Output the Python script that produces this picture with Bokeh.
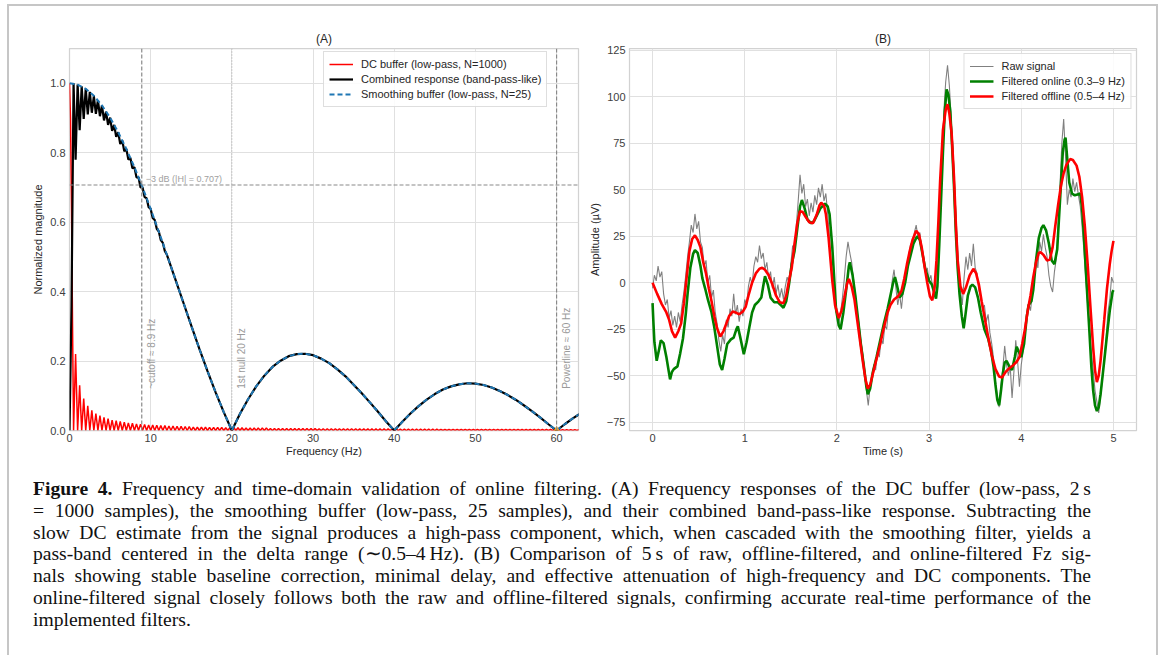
import numpy as np
from bokeh.plotting import figure
from bokeh.models import (Span, Label, Legend, LegendItem, FixedTicker, Div, Range1d)
from bokeh.layouts import row, column
from bokeh.embed import file_html
from bokeh.resources import INLINE

# ---------------- data : panel A (frequency responses) ----------------
freq_ticks = [0, 10, 20, 30, 40, 50, 60]
mag_ticks = [0.0, 0.2, 0.4, 0.6, 0.8, 1.0]

# smoothing buffer (N=25), read at 1 Hz steps from 0 to 63 Hz
smooth_step_hz = 1.0
smooth_mag = [1.000, 0.996, 0.984, 0.964, 0.936, 0.901, 0.859, 0.811, 0.758, 0.700,
              0.638, 0.573, 0.506, 0.438, 0.370, 0.302, 0.235, 0.171, 0.110, 0.053,
              0.000, 0.048, 0.090, 0.127, 0.158, 0.183, 0.201, 0.214, 0.220, 0.221,
              0.217, 0.207, 0.194, 0.176, 0.156, 0.132, 0.107, 0.081, 0.054, 0.026,
              0.000, 0.025, 0.049, 0.070, 0.089, 0.105, 0.118, 0.127, 0.133, 0.136,
              0.135, 0.131, 0.124, 0.114, 0.102, 0.088, 0.072, 0.055, 0.037, 0.018,
              0.000, 0.018, 0.035, 0.050]

# combined response, low-frequency part read at 0.25 Hz steps (0..12 Hz);
# above 12 Hz it lies on the smoothing curve
combined_step_hz = 0.25
combined_lf = [0.0, 0.36, 1.0, 0.78, 0.996, 0.865, 0.991, 0.897, 0.984, 0.910,
               0.975, 0.915, 0.963, 0.912, 0.951, 0.905, 0.936, 0.893, 0.918, 0.880,
               0.901, 0.863, 0.880, 0.846, 0.859, 0.825, 0.835, 0.804, 0.811, 0.780,
               0.785, 0.755, 0.758, 0.729, 0.729, 0.700, 0.700, 0.672, 0.669, 0.643,
               0.638, 0.612, 0.606, 0.581, 0.573, 0.548, 0.540, 0.516, 0.506]

# DC buffer (N=1000): main lobe at 0.125 Hz steps, then side-lobe peaks (nulls every 0.5 Hz)
dc_main_step_hz = 0.125
dc_main = [1.0, 0.90, 0.64, 0.30, 0.0]
dc_lobe_hz = 0.5
dc_peaks = [0.220, 0.130, 0.092, 0.071, 0.058, 0.049, 0.043, 0.038, 0.034, 0.030,
            0.028, 0.026, 0.024, 0.022, 0.021, 0.019, 0.018, 0.017, 0.016, 0.016,
            0.015, 0.014, 0.014, 0.013, 0.013, 0.012, 0.012, 0.011, 0.011, 0.010,
            0.010, 0.010, 0.010, 0.009, 0.009, 0.009, 0.009, 0.008, 0.008, 0.008,
            0.008, 0.008, 0.007, 0.007, 0.007, 0.007, 0.007, 0.007, 0.006, 0.006,
            0.006, 0.006, 0.006, 0.006, 0.006, 0.006, 0.006, 0.006, 0.006, 0.006,
            0.005, 0.005, 0.005, 0.005, 0.005, 0.005, 0.005, 0.005, 0.005, 0.005,
            0.0045, 0.0045, 0.0045, 0.0045, 0.0045, 0.0045, 0.0045, 0.0045, 0.0045, 0.0045,
            0.004, 0.004, 0.004, 0.004, 0.004, 0.004, 0.004, 0.004, 0.004, 0.004,
            0.0035, 0.0035, 0.0035, 0.0035, 0.0035, 0.0035, 0.0035, 0.0035, 0.0035, 0.0035,
            0.0032, 0.0032, 0.0032, 0.0032, 0.0032, 0.0032, 0.0032, 0.0032, 0.0032, 0.0032,
            0.003, 0.003, 0.003, 0.003, 0.003, 0.003, 0.003, 0.003, 0.003, 0.003,
            0.0027, 0.0027, 0.0027, 0.0027, 0.0027]

cutoff_hz = 8.9
null_hz = 20
powerline_hz = 60
minus3db = 0.707

# ---------------- data : panel B (time domain) ----------------
time_ticks = [0, 1, 2, 3, 4, 5]
amp_ticks = [-75, -50, -25, 0, 25, 50, 75, 100, 125]

raw_dt = 0.02
raw_uv = [-3, 4, 1, 9, 3, 6, -6, -12, -9, -19,
          -15, -23, -18, -24, -16, -21, -12, -5, 4, 14,
          22, 31, 27, 37, 29, 33, 22, 19, 9, 12,
          0, 4, -8, -4, -16, -22, -31, -37, -28, -33,
          -20, -24, -14, -18, -6, -17, -12, -21, -14, -18,
          -9, -12, -2, 3, -1, 9, 14, 11, 20, 13,
          16, 7, 11, 2, 6, -3, 3, -6, -1, -8,
          -3, -9, -2, 3, 0, 10, 20, 17, 31, 44,
          58, 48, 53, 41, 45, 36, 43, 38, 47, 42,
          51, 46, 53, 44, 48, 37, 24, 9, -4, -12,
          -18, -22, -16, -8, 2, 14, 22, 16, 11, 2,
          -6, -16, -22, -31, -38, -47, -58, -66, -56, -51,
          -44, -47, -37, -40, -30, -33, -23, -25, -14, -10,
          1, 7, -3, -12, -6, -14, -4, 3, 9, 15,
          21, 18, 27, 31, 24, 27, 17, 14, 5, 8,
          1, 4, -3, -6, 8, 24, 47, 68, 92, 108,
          117, 106, 88, 71, 48, 28, 9, -4, -12, 3,
          14, 7, 16, 9, 21, 8, 5, -4, -8, -14,
          -12, -21, -17, -27, -33, -41, -53, -61, -67, -55,
          -46, -34, -44, -50, -45, -62, -48, -31, -42, -56,
          -44, -37, -28, -19, -11, -15, -6, 2, 14, 8,
          22, 17, 26, 19, 14, 4, -2, -5, 6, 13,
          29, 52, 75, 88, 68, 42, 50, 46, 56, 49,
          54, 47, 41, 30, 17, 2, -12, -24, -38, -47,
          -58, -64, -70, -61, -52, -41, -30, -16, -9, 3,
          0]

online_t = [0.00, 0.01, 0.02, 0.045, 0.07, 0.09, 0.12, 0.15, 0.19, 0.21,
            0.23, 0.27, 0.30, 0.33, 0.36, 0.38, 0.41, 0.44, 0.46, 0.49,
            0.52, 0.54, 0.57, 0.60, 0.64, 0.67, 0.70, 0.73, 0.755, 0.78,
            0.81, 0.85, 0.88, 0.91, 0.925, 0.95, 0.99, 1.02, 1.05, 1.08,
            1.11, 1.15, 1.18, 1.20, 1.22, 1.25, 1.28, 1.32, 1.36, 1.40,
            1.42, 1.45, 1.48, 1.51, 1.54, 1.57, 1.60, 1.62, 1.65, 1.68,
            1.72, 1.75, 1.78, 1.82, 1.87, 1.90, 1.92, 1.95, 1.99, 2.02,
            2.04, 2.07, 2.10, 2.13, 2.14, 2.17, 2.20, 2.23, 2.26, 2.29,
            2.32, 2.335, 2.36, 2.39, 2.43, 2.47, 2.51, 2.55, 2.58, 2.61,
            2.63, 2.65, 2.68, 2.71, 2.74, 2.77, 2.80, 2.83, 2.87, 2.90,
            2.93, 2.96, 3.00, 3.03, 3.06, 3.075, 3.09, 3.11, 3.13, 3.15,
            3.17, 3.19, 3.21, 3.23, 3.25, 3.27, 3.29, 3.31, 3.33, 3.355,
            3.375, 3.39, 3.42, 3.45, 3.47, 3.50, 3.53, 3.56, 3.60, 3.64,
            3.67, 3.70, 3.72, 3.74, 3.76, 3.78, 3.80, 3.82, 3.84, 3.87,
            3.90, 3.93, 3.95, 3.98, 4.00, 4.03, 4.06, 4.08, 4.11, 4.13,
            4.16, 4.19, 4.22, 4.24, 4.27, 4.30, 4.33, 4.36, 4.39, 4.42,
            4.45, 4.47, 4.48, 4.50, 4.52, 4.55, 4.58, 4.61, 4.64, 4.66,
            4.68, 4.70, 4.72, 4.74, 4.76, 4.78, 4.80, 4.82, 4.84, 4.86,
            4.88, 4.90, 4.93, 4.96, 4.99, 5.00]
online_uv = [-11, -22, -32, -42, -36, -31, -32.5, -40, -52, -48,
             -46.5, -45, -38, -30, -17, -6, 8, 15.5, 17.5, 16,
             9, 2.5, -3, -9, -16, -24, -34, -44, -47, -41,
             -33, -30.5, -29.5, -25, -23.5, -29, -38.5, -32, -24, -16,
             -12, -10, -8, -2, 3.5, -1, -8, -10.5, -10.5, -12.5,
             -13.5, -10, -1, 10, 17, 29, 41, 44.5, 40, 34,
             32, 33, 36, 40, 42.5, 41, 37, 19, -14, -23,
             -25, -16, -4, 9, 11, 4, -7, -20, -33, -44,
             -56, -60, -57, -48, -40, -31, -22, -14, -7, 0,
             3, -1, -8, -6, 0, 9, 15, 21, 25, 23,
             15, 7, 1, -1, -6, -8.5, -2, 20, 45, 70,
             92, 104, 101, 92, 73, 52, 27, 8, -6, -18,
             -24.5, -19, -7, -2, -1, -2.5, -8, -16, -25, -30,
             -36, -45.5, -55, -63, -66, -58, -49, -43, -42, -45,
             -47, -40, -34.5, -38, -40, -33, -18, -12, -10, -4,
             12, 24, 29.5, 31, 28, 21, 12, 10, 18, 44,
             70, 77, 78, 66, 54, 48, 47, 47.5, 48, 40,
             25, 7, -10, -27, -45, -58, -66, -69, -67, -60,
             -51, -42, -28, -15, -5, -4]

offline_t = [0.00, 0.05, 0.10, 0.15, 0.18, 0.21, 0.245, 0.28, 0.31, 0.34,
             0.37, 0.40, 0.43, 0.46, 0.49, 0.52, 0.55, 0.58, 0.61, 0.64,
             0.67, 0.70, 0.735, 0.77, 0.80, 0.83, 0.87, 0.90, 0.94, 0.98,
             1.01, 1.04, 1.08, 1.12, 1.16, 1.19, 1.22, 1.26, 1.30, 1.34,
             1.38, 1.42, 1.45, 1.48, 1.51, 1.54, 1.57, 1.60, 1.63, 1.66,
             1.70, 1.74, 1.78, 1.81, 1.83, 1.86, 1.88, 1.91, 1.95, 1.98,
             2.02, 2.05, 2.08, 2.11, 2.13, 2.16, 2.19, 2.22, 2.25, 2.28,
             2.31, 2.335, 2.36, 2.39, 2.43, 2.47, 2.51, 2.55, 2.58, 2.62,
             2.66, 2.70, 2.73, 2.76, 2.79, 2.82, 2.86, 2.89, 2.92, 2.95,
             2.98, 3.01, 3.035, 3.06, 3.08, 3.10, 3.12, 3.15, 3.18, 3.20,
             3.22, 3.245, 3.27, 3.29, 3.31, 3.34, 3.37, 3.40, 3.44, 3.48,
             3.51, 3.54, 3.57, 3.60, 3.64, 3.68, 3.72, 3.76, 3.79, 3.83,
             3.87, 3.91, 3.95, 3.98, 4.01, 4.04, 4.07, 4.10, 4.13, 4.16,
             4.19, 4.21, 4.24, 4.28, 4.31, 4.34, 4.37, 4.40, 4.43, 4.46,
             4.49, 4.53, 4.56, 4.60, 4.63, 4.66, 4.69, 4.72, 4.75, 4.78,
             4.80, 4.82, 4.84, 4.86, 4.88, 4.90, 4.93, 4.96, 4.98, 5.00]
offline_uv = [0, -6, -11.5, -16, -20, -26, -29.5, -26, -22, -11,
              3, 17, 23.5, 25.5, 23, 19, 11, 5, -3, -10,
              -18, -24.5, -29, -26, -22, -18, -15.5, -16, -17, -15.5,
              -13, -7, 0, 5, 7.5, 8, 7, 4, -1, -7,
              -10.5, -11, -7, 1, 8, 21, 32, 38.5, 38, 35.5,
              32.5, 32, 36.5, 41.5, 43, 41.5, 37, 24, 1, -12,
              -19, -15, -8, -0.5, 2, -2, -9, -20, -31, -42,
              -52, -57, -55, -49, -41, -33, -24, -16, -12, -9,
              -7.5, -4.5, 2, 10, 17, 23, 28, 26, 19, 9,
              0, -7.5, -9.5, -2, 12, 32, 55, 82, 93, 96,
              91, 80, 57, 32, 12, -2, -6, -2.5, 4, 7.5,
              5, -1, -10, -18, -29, -39, -46.5, -50.5, -51, -48,
              -46, -44.5, -42.5, -40, -33, -25, -15, -7, 3, 11,
              16, 16.5, 15, 12, 12.5, 19, 31, 42, 52, 59,
              63.5, 66.5, 66, 63, 57, 46, 30, 10, -13, -35,
              -47, -53.5, -50, -42, -31, -20, -3, 10, 17, 22.5]

# ---------------- derived arrays ----------------
smooth_hz = np.arange(len(smooth_mag)) * smooth_step_hz
lf_hz = np.arange(len(combined_lf)) * combined_step_hz
keep = smooth_hz > lf_hz[-1]
combined_hz = np.concatenate([lf_hz, smooth_hz[keep]])
combined_mag = np.concatenate([combined_lf, np.array(smooth_mag)[keep]])

dc_hz = list(np.arange(len(dc_main)) * dc_main_step_hz)
dc_mag = list(dc_main)
for k, pk in enumerate(dc_peaks):
    dc_hz += [dc_lobe_hz * (k + 1) + dc_lobe_hz / 2, dc_lobe_hz * (k + 2)]
    dc_mag += [pk, 0.0]

raw_t = np.arange(len(raw_uv)) * raw_dt

# ---------------- styling helpers ----------------
FONT = "Liberation Sans"


def style(p):
    p.outline_line_color = "#d2d2d2"
    p.outline_line_width = 1.25
    p.background_fill_color = "white"
    p.border_fill_color = "white"
    for ax in (p.xaxis[0], p.yaxis[0]):
        ax.axis_line_color = None
        ax.major_tick_line_color = None
        ax.minor_tick_line_color = None
        ax.major_tick_out = 0
        ax.major_tick_in = 0
        ax.minor_tick_out = 0
        ax.minor_tick_in = 0
        ax.major_label_text_font = FONT
        ax.major_label_text_font_size = "11px"
        ax.major_label_text_color = "#404040"
        ax.axis_label_text_font = FONT
        ax.axis_label_text_font_size = "11px"
        ax.axis_label_text_font_style = "normal"
        ax.axis_label_text_color = "#262626"
    p.xaxis.major_label_standoff = 3
    p.xaxis.axis_label_standoff = 0
    p.yaxis.major_label_standoff = 4
    p.yaxis.axis_label_standoff = 3
    p.grid.grid_line_color = "#e0e0e0"
    p.grid.grid_line_width = 1
    p.title.align = "center"
    p.title.text_font = FONT
    p.title.text_font_size = "12px"
    p.title.text_font_style = "normal"
    p.title.text_color = "#262626"
    p.title.standoff = 6


def legend(items, loc):
    lg = Legend(items=items, location=loc)
    lg.border_line_color = "#bdbdbd"
    lg.border_line_width = 1
    lg.background_fill_alpha = 0.85
    lg.label_text_font = FONT
    lg.label_text_font_size = "11px"
    lg.label_text_color = "#262626"
    lg.glyph_width = 24
    lg.glyph_height = 14
    lg.label_height = 14
    lg.spacing = 1
    lg.padding = 5
    lg.label_standoff = 8
    lg.margin = 5
    return lg


# ---------------- panel A ----------------
pA = figure(width=576, height=454, title="(A)", output_backend="svg", toolbar_location=None,
            x_range=Range1d(0, 62.7), y_range=Range1d(0, 1.1),
            min_border_left=60, min_border_right=7, min_border_top=42, min_border_bottom=30,
            x_axis_label="Frequency (Hz)", y_axis_label="Normalized magnitude")
style(pA)
pA.xaxis.ticker = FixedTicker(ticks=freq_ticks)
pA.yaxis.ticker = FixedTicker(ticks=mag_ticks)
pA.yaxis.major_label_overrides = {v: f"{v:.1f}" for v in mag_ticks}

for loc, dim, dash, wid, col in [(cutoff_hz, "height", "4 2", 1.2, "#8a8a8a"),
                                 (null_hz, "height", "1 2", 0.9, "#a0a0a0"),
                                 (powerline_hz, "height", "4 2", 1.2, "#8a8a8a"),
                                 (minus3db, "width", "4 2", 1.2, "#8a8a8a")]:
    pA.add_layout(Span(location=loc, dimension=dim, line_dash=dash, line_width=wid, line_color=col))

rA1 = pA.line(dc_hz, dc_mag, line_color="#ff0000", line_width=1.5)
rA2 = pA.line(combined_hz, combined_mag, line_color="black", line_width=2.2)
rA3 = pA.line(smooth_hz, smooth_mag, line_color="#1f77b4", line_width=2, line_dash="5 3")
pA.scatter([powerline_hz], [0.0], marker="triangle", size=7, color="#f5a623")

pA.add_layout(Label(x=cutoff_hz + 0.5, y=minus3db + 0.004, text="\u22123 dB (|H| = 0.707)",
                    text_font=FONT, text_font_size="9px", text_color="#a0a0a0",
                    text_baseline="bottom", text_align="left"))
for fx, txt in [(cutoff_hz, "~cutoff \u2248 8.9 Hz"), (null_hz, "1st null 20 Hz"),
                (powerline_hz, "Powerline \u2248 60 Hz")]:
    pA.add_layout(Label(x=fx + 1.2, y=0.12, text=txt, angle=np.pi / 2, text_font=FONT,
                        text_font_size="10px", text_color="#9a9a9a",
                        text_baseline="middle", text_align="left"))

pA.add_layout(legend([LegendItem(label="DC buffer (low-pass, N=1000)", renderers=[rA1]),
                      LegendItem(label="Combined response (band-pass-like)", renderers=[rA2]),
                      LegendItem(label="Smoothing buffer (low-pass, N=25)", renderers=[rA3])],
                     (254, 323)))
pA.legend.margin = 0

# ---------------- panel B ----------------
pB = figure(width=571, height=454, title="(B)", output_backend="svg", toolbar_location=None,
            x_range=Range1d(-0.25, 5.25), y_range=Range1d(-79.5, 126),
            min_border_left=43, min_border_right=20, min_border_top=42, min_border_bottom=30,
            x_axis_label="Time (s)", y_axis_label="Amplitude (\u00b5V)")
style(pB)
pB.xaxis.ticker = FixedTicker(ticks=time_ticks)
pB.yaxis.ticker = FixedTicker(ticks=amp_ticks)
pB.yaxis.major_label_overrides = {v: (f"\u2212{-v}" if v < 0 else str(v)) for v in amp_ticks}

rB1 = pB.line(raw_t, raw_uv, line_color="#808080", line_width=1.1)
rB2 = pB.line(online_t, online_uv, line_color="#008000", line_width=2.6)
rB3 = pB.line(offline_t, offline_uv, line_color="#ff0000", line_width=2.6)
pB.add_layout(legend([LegendItem(label="Raw signal", renderers=[rB1]),
                      LegendItem(label="Filtered online (0.3\u20139 Hz)", renderers=[rB2]),
                      LegendItem(label="Filtered offline (0.5\u20134 Hz)", renderers=[rB3])],
                     "top_right"))

# ---------------- caption ----------------
cap_lines = [
    "<b>Figure 4.</b> Frequency and time-domain validation of online filtering. (A) Frequency responses of the DC buffer (low-pass, 2&#8239;s",
    "= 1000 samples), the smoothing buffer (low-pass, 25 samples), and their combined band-pass-like response. Subtracting the",
    "slow DC estimate from the signal produces a high-pass component, which, when cascaded with the smoothing filter, yields a",
    "pass-band centered in the delta range (&#8764;0.5&#8211;4&#8239;Hz). (B) Comparison of 5&#8239;s of raw, offline-filtered, and online-filtered Fz sig-",
    "nals showing stable baseline correction, minimal delay, and effective attenuation of high-frequency and DC components. The",
    "online-filtered signal closely follows both the raw and offline-filtered signals, confirming accurate real-time performance of the",
    "implemented filters.",
]
html = ("<div style=\"box-sizing:content-box;font-family:'Liberation Serif',serif;font-size:19.6px;"
        "line-height:21.8px;color:#111111;width:1058px;padding-left:24px;padding-top:18px;\">")
for i, ln in enumerate(cap_lines):
    al = ("text-align:justify;text-align-last:justify;white-space:nowrap;"
          if i < len(cap_lines) - 1 else "text-align:left;white-space:nowrap;")
    html += f"<div style=\"{al}\">{ln}</div>"
html += "</div>"
cap = Div(text=html, width=1147, height=195, margin=(0, 0, 0, 0))

layout = column(row(pA, pB), cap,
                styles={"border-top": "2px solid #c6c6c6", "border-left": "2px solid #c6c6c6",
                        "border-right": "2px solid #c6c6c6", "background": "white",
                        "margin-left": "7px", "margin-top": "4px"})

open("out.html", "w").write(file_html(layout, INLINE))
